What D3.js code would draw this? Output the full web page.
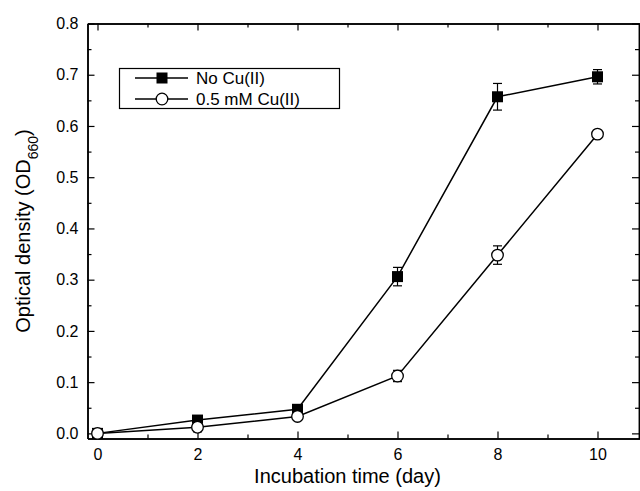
<!DOCTYPE html>
<html>
<head>
<meta charset="utf-8">
<script src="https://cdn.jsdelivr.net/npm/d3@7"></script>
<style>
  body { margin: 0; background: #fff; }
  text { font-family: "Liberation Sans", Arial, sans-serif; fill: #000; }
</style>
</head>
<body>
<div id="graph"></div>
<script>
// data
const days = [0, 2, 4, 6, 8, 10];
const noCu = [0.0, 0.026, 0.047, 0.306, 0.657, 0.696];
const noCuErr = [0.002, 0.004, 0.004, 0.018, 0.026, 0.014];
const cu05 = [0.0, 0.012, 0.033, 0.112, 0.348, 0.584];
const cu05Err = [0.002, 0.009, 0.004, 0.011, 0.018, 0.006];
const seriesNames = ["No Cu(II)", "0.5 mM Cu(II)"];
const xTicks = [0, 2, 4, 6, 8, 10];
const yTicks = [0.0, 0.1, 0.2, 0.3, 0.4, 0.5, 0.6, 0.7, 0.8];

const W = 640, H = 491;
const plot = {left: 87.5, right: 640, top: 23.5, bottom: 438.5};

const svg = d3.select("#graph").append("svg")
    .attr("width", W)
    .attr("height", H);

const x = d3.scaleLinear().domain([-0.2, 10.85]).range([plot.left, plot.right]);
const y = d3.scaleLinear().domain([-0.01, 0.8]).range([plot.bottom, plot.top]);

// axes, ticks pointing inward on all four sides
const minorX = d3.range(1, 11, 2);
const minorY = d3.range(0.05, 0.8, 0.1);

svg.append("g")
    .attr("transform", "translate(0," + plot.bottom + ")")
    .call(d3.axisBottom(x).tickValues(xTicks).tickFormat(d3.format("d"))
          .tickSizeInner(-7).tickSizeOuter(0).tickPadding(10));
svg.append("g")
    .attr("transform", "translate(0," + plot.bottom + ")")
    .call(d3.axisBottom(x).tickValues(minorX).tickFormat("").tickSizeInner(-4).tickSizeOuter(0));
svg.append("g")
    .attr("transform", "translate(0," + plot.top + ")")
    .call(d3.axisTop(x).tickValues(xTicks).tickFormat("").tickSizeInner(-7).tickSizeOuter(0));
svg.append("g")
    .attr("transform", "translate(0," + plot.top + ")")
    .call(d3.axisTop(x).tickValues(minorX).tickFormat("").tickSizeInner(-4).tickSizeOuter(0));

svg.append("g")
    .attr("transform", "translate(" + plot.left + ",0)")
    .call(d3.axisLeft(y).tickValues(yTicks).tickFormat(d3.format(".1f"))
          .tickSizeInner(-7).tickSizeOuter(0).tickPadding(9));
svg.append("g")
    .attr("transform", "translate(" + plot.left + ",0)")
    .call(d3.axisLeft(y).tickValues(minorY).tickFormat("").tickSizeInner(-4).tickSizeOuter(0));
svg.append("g")
    .attr("transform", "translate(" + (plot.right - 1) + ",0)")
    .call(d3.axisRight(y).tickValues(yTicks).tickFormat("").tickSizeInner(-7).tickSizeOuter(0));
svg.append("g")
    .attr("transform", "translate(" + (plot.right - 1) + ",0)")
    .call(d3.axisRight(y).tickValues(minorY).tickFormat("").tickSizeInner(-4).tickSizeOuter(0));

svg.selectAll(".domain").attr("stroke", "#000").attr("stroke-width", 1.5);
svg.selectAll(".tick line").attr("stroke", "#000").attr("stroke-width", 1.2);
svg.selectAll(".tick text").style("font-size", "16px");

// axis titles
svg.append("text")
    .attr("x", x(5))
    .attr("y", 483)
    .attr("text-anchor", "middle")
    .style("font-size", "20px")
    .text("Incubation time (day)");

const yt = svg.append("text")
    .attr("transform", "translate(30," + ((plot.top + plot.bottom) / 2) + ") rotate(-90)")
    .attr("text-anchor", "middle")
    .style("font-size", "20px");
yt.append("tspan").text("Optical density (OD");
yt.append("tspan").attr("baseline-shift", "sub").style("font-size", "14px").text("660");
yt.append("tspan").text(")");

// series
const series = [
  { vals: noCu, err: noCuErr, shape: "square" },
  { vals: cu05, err: cu05Err, shape: "circle" }
];

const line = d3.line().x(d => x(d[0])).y(d => y(d[1]));

series.forEach(s => {
  const pts = days.map((d, i) => [d, s.vals[i], s.err[i]]);
  svg.append("path")
      .attr("d", line(pts))
      .attr("fill", "none")
      .attr("stroke", "#000")
      .attr("stroke-width", 1.5);

  const g = svg.append("g");
  // error bars
  pts.forEach(p => {
    const cx = x(p[0]);
    const y1 = y(p[1] + p[2]), y2 = y(p[1] - p[2]);
    g.append("line").attr("x1", cx).attr("x2", cx).attr("y1", y1).attr("y2", y2)
        .attr("stroke", "#000").attr("stroke-width", 1.2);
    [y1, y2].forEach(yy => g.append("line")
        .attr("x1", cx - 4.5).attr("x2", cx + 4.5).attr("y1", yy).attr("y2", yy)
        .attr("stroke", "#000").attr("stroke-width", 1.2));
  });
  // markers
  pts.forEach(p => {
    if (s.shape === "square") {
      g.append("rect")
          .attr("x", x(p[0]) - 5.5).attr("y", y(p[1]) - 5.5)
          .attr("width", 11).attr("height", 11)
          .attr("fill", "#000");
    } else {
      g.append("circle")
          .attr("cx", x(p[0])).attr("cy", y(p[1])).attr("r", 5.8)
          .attr("fill", "#fff").attr("stroke", "#000").attr("stroke-width", 1.3);
    }
  });
});

// legend
const lg = svg.append("g");
lg.append("rect")
    .attr("x", 119.5).attr("y", 68.5).attr("width", 220).attr("height", 40)
    .attr("fill", "#fff").attr("stroke", "#000").attr("stroke-width", 1.2);
seriesNames.forEach((name, i) => {
  const ly = 78 + i * 21;
  lg.append("line").attr("x1", 135).attr("x2", 188).attr("y1", ly).attr("y2", ly)
      .attr("stroke", "#000").attr("stroke-width", 1.5);
  if (i === 0) {
    lg.append("rect").attr("x", 156.5).attr("y", ly - 5.5).attr("width", 11).attr("height", 11).attr("fill", "#000");
  } else {
    lg.append("circle").attr("cx", 162).attr("cy", ly).attr("r", 5.8)
        .attr("fill", "#fff").attr("stroke", "#000").attr("stroke-width", 1.3);
  }
  lg.append("text").attr("x", 196).attr("y", ly + 6)
      .style("font-size", "17px").text(name);
});
</script>
</body>
</html>
